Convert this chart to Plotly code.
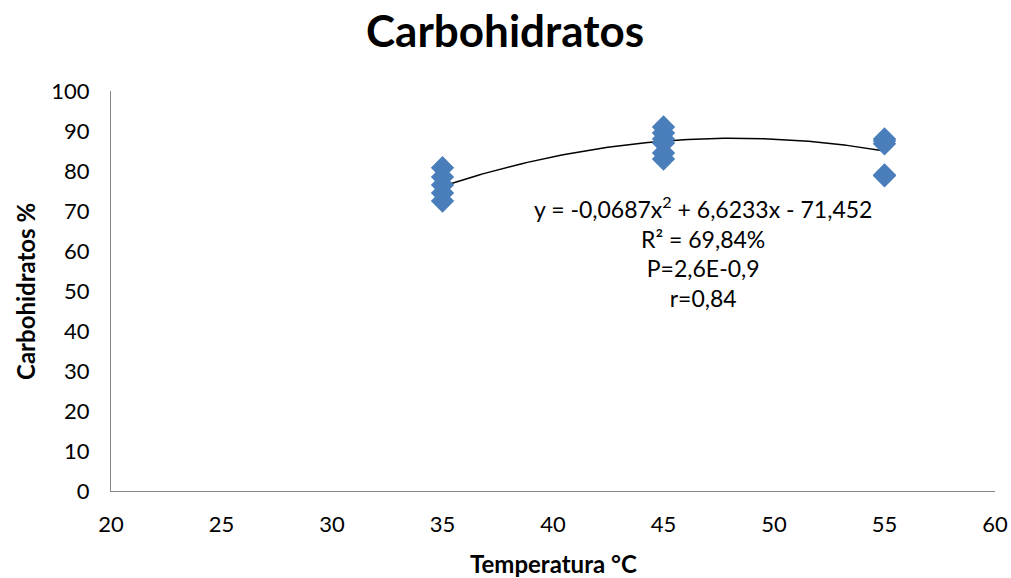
import plotly.graph_objects as go
import numpy as np

temp = [35, 35, 35, 35, 35, 45, 45, 45, 45, 45, 45, 55, 55, 55, 55, 55]
carb = [80.8, 78.5, 76.5, 74.5, 72.5, 91, 89.5, 88, 87, 84.5, 83, 88, 87.5, 86.8, 79, 78.8]
coef = [-0.0687, 6.6233, -71.452]
x_ticks = [20, 25, 30, 35, 40, 45, 50, 55, 60]
y_ticks = [0, 10, 20, 30, 40, 50, 60, 70, 80, 90, 100]

xs = np.linspace(min(temp), max(temp), 100)
ys = np.polyval(coef, xs)

FONT = "Lato"
L, R, T, B = 111, 16, 91, 87
W, H = 1011, 578
pw, ph = W - L - R, H - T - B

fig = go.Figure()
fig.add_trace(go.Scatter(x=xs, y=ys, mode="lines", line=dict(color="black", width=1.5), hoverinfo="skip"))
fig.add_trace(go.Scatter(x=temp, y=carb, mode="markers",
                         marker=dict(symbol="diamond", size=18, color="#4A7EBB", line=dict(width=0))))

fig.add_annotation(x=(703 - L) / pw, y=(H - B - 190) / ph, xref="paper", yref="paper", showarrow=False,
                   xanchor="center", yanchor="top",
                   text="y = -0,0687x<sup>2</sup> + 6,6233x - 71,452<br>R² = 69,84%<br>P=2,6E-0,9<br>r=0,84",
                   font=dict(family=FONT, size=23, color="black"), align="center")
# axis titles
fig.add_annotation(x=(553 - L) / pw, y=-(563 - (H - B)) / ph, xref="paper", yref="paper", showarrow=False,
                   xanchor="center", yanchor="middle", text="<b>Temperatura °C</b>",
                   font=dict(family=FONT, size=24, color="black"))
fig.add_annotation(x=-(L - 25) / pw, y=(H - B - 292) / ph, xref="paper", yref="paper", showarrow=False,
                   xanchor="center", yanchor="middle", textangle=-90, text="<b>Carbohidratos %</b>",
                   font=dict(family=FONT, size=24, color="black"))

fig.update_layout(
    width=W, height=H, paper_bgcolor="white", plot_bgcolor="white",
    margin=dict(l=L, r=R, t=T, b=B), showlegend=False,
    title=dict(text="<b>Carbohidratos</b>", x=505 / W, xanchor="center", y=1 - 32 / H, yanchor="middle",
               font=dict(family=FONT, size=44, color="black")),
    xaxis=dict(range=[20, 60], tickvals=x_ticks, showgrid=False, zeroline=False, showline=True,
               linecolor="#868686", linewidth=1, ticks="", automargin=False, ticklabelstandoff=14,
               tickfont=dict(family=FONT, size=22, color="black")),
    yaxis=dict(range=[0, 100], tickvals=y_ticks, showgrid=False, zeroline=False, showline=True,
               linecolor="#868686", linewidth=1, ticks="", automargin=False, ticklabelstandoff=16,
               tickfont=dict(family=FONT, size=22, color="black")),
)
fig.write_html("out.html")
